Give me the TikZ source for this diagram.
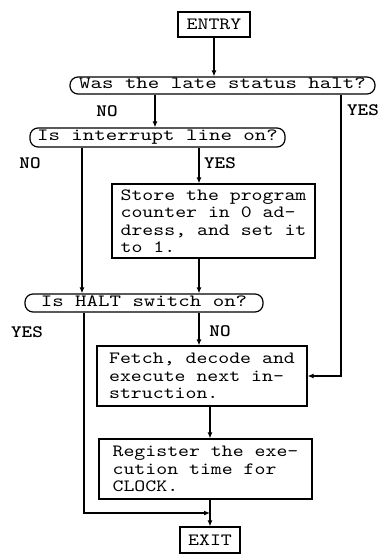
\documentclass[tikz,border=0pt]{standalone}
\usepackage{fontspec}
\newfontfamily\flowfont{lmmono10-regular.otf}[FakeStretch=1.21]
\newfontfamily\askfont{lmmono10-regular.otf}[FakeStretch=1.27]
\newfontfamily\answerfont{lmmonolt10-bold.otf}[FakeStretch=1.15]
\usetikzlibrary{arrows.meta}
\tikzset{
	flow/.style={line width=1.2pt, -{Latex[length=6pt,width=5pt]}},
	process/.style={draw, line width=1.2pt, align=left, inner sep=0pt,
		font=\flowfont\fontsize{17.2}{17.5}\selectfont},
	decision/.style={draw, line width=1.2pt, rounded corners=8pt, inner sep=0pt,
		text height=10.5pt, text depth=3.7pt, font=\askfont\fontsize{17.2}{17.5}\selectfont},
	answer/.style={font=\answerfont\fontsize{17.5}{17.5}\selectfont}
}
\begin{document}
\begin{tikzpicture}[x=1pt, y=-1pt]
			\useasboundingbox (0,0) rectangle (383,556);

			% Draw boxes
			\node[process, minimum width=72pt, minimum height=25pt] (entry) at (214,24.5) {ENTRY};
			\node[decision, minimum width=305pt, minimum height=17pt] (late) at (222.5,85.5) {Was the late status halt?};
			\node[decision, minimum width=255pt, minimum height=19pt] (intr) at (157.5,137.5) {Is interrupt line on?};
			\node[process, minimum width=203pt, minimum height=74pt] (store) at (213.5,221)
				{Store the program\\counter in 0 ad-\\dress, and set it\\to 1.};
			\node[decision, minimum width=238pt, minimum height=18pt] (halt) at (144,303) {Is HALT switch on?};
			\node[process, minimum width=210pt, minimum height=60pt] (fetch) at (202,376)
				{Fetch, decode and\\execute next in-\\struction.};
			\node[process, minimum width=213pt, minimum height=60pt] (reg) at (205.5,469)
				{Register the exe-\\cution time for\\CLOCK.};
			\node[process, minimum width=60pt, minimum height=26pt] (exit) at (210,540) {EXIT};
			\coordinate (join) at (exit.north |- 0,513);

			% Draw connectors
			\draw[flow] (entry) -- (entry |- late.north);
			\draw[flow] (155,0 |- late.south) -- (155,0 |- intr.north);
			\draw[flow] (341,0 |- late.south) |- (fetch.east);
			\draw[flow] (82,0 |- intr.south) -- (82,0 |- halt.north);
			\draw[flow] (199,0 |- intr.south) -- (199,0 |- store.north);
			\draw[flow] (199,0 |- store.south) -- (199,0 |- halt.north);
			\draw[flow] (199,0 |- halt.south) -- (199,0 |- fetch.north);
			\draw[flow] (84,0 |- halt.south) |- (join);
			\draw[flow] (210,0 |- fetch.south) -- (210,0 |- reg.north);
			\draw[flow] (exit.north |- reg.south) -- (exit.north);

			% Draw answers
			\node[answer] (no1) at (107,111) {NO};
			\node[answer] (yes1) at (363,110) {YES};
			\node[answer] (no2) at (30,163) {NO};
			\node[answer] (yes2) at (220,163) {YES};
			\node[answer] (yes3) at (27,332) {YES};
			\node[answer] (no3) at (220,331) {NO};
		\end{tikzpicture}
\end{document}
